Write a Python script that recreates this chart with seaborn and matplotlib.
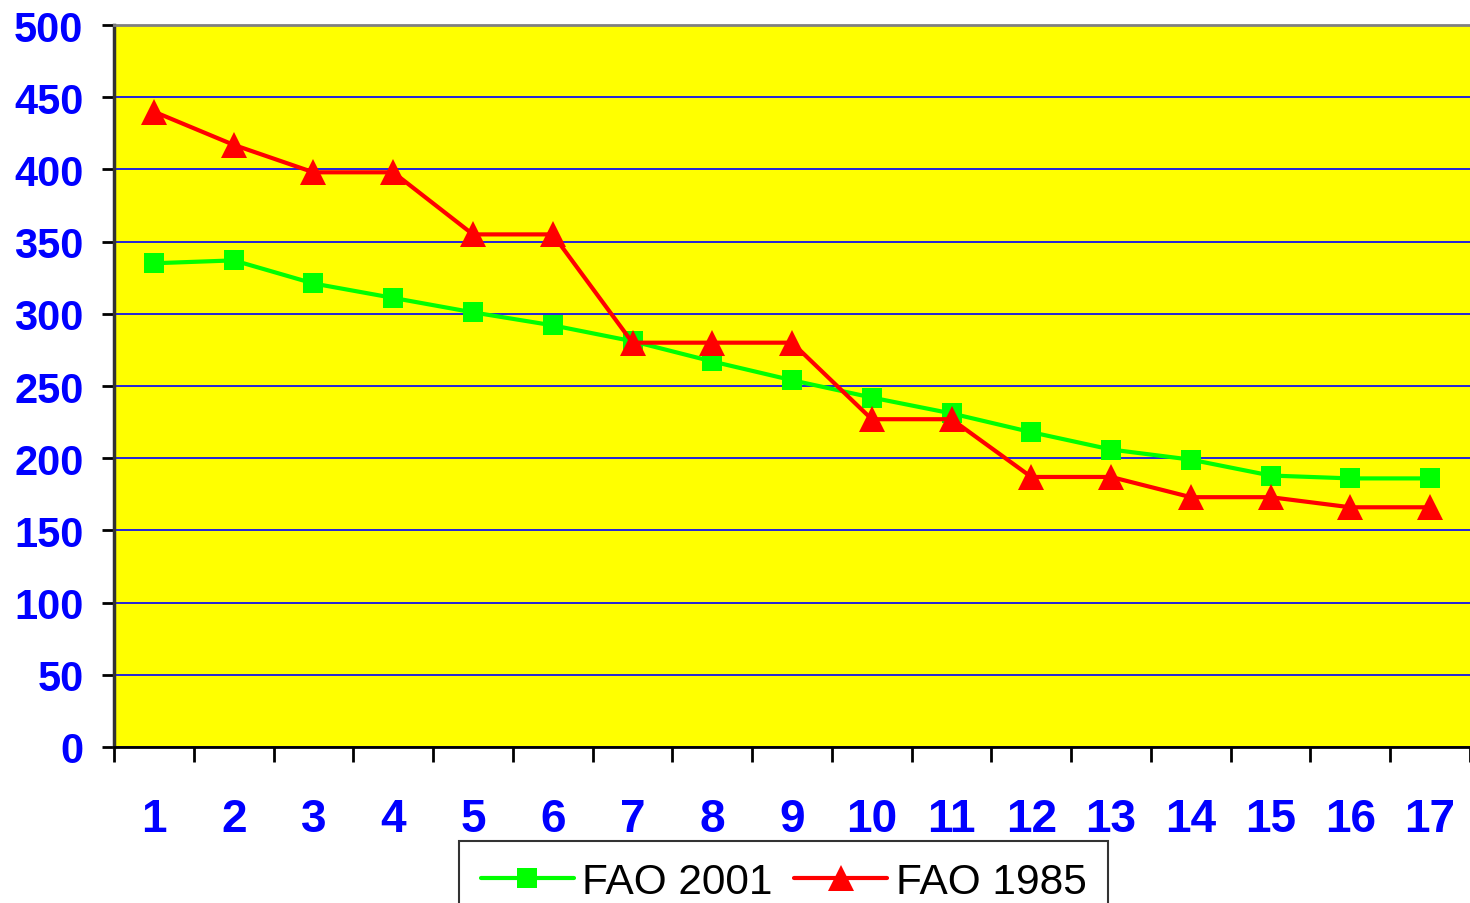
import matplotlib
matplotlib.use("Agg")
import matplotlib.pyplot as plt
import seaborn as sns
import pandas as pd
from matplotlib.ticker import FixedLocator

categories = [str(i) for i in range(1, 18)]
fao_2001 = [335, 337, 321, 311, 301, 292, 281, 267, 254, 242, 231, 218, 206, 199, 188, 186, 186]
fao_1985 = [440, 417, 398, 398, 355, 355, 280, 280, 280, 227, 227, 187, 187, 173, 173, 166, 166]
y_ticks = list(range(0, 501, 50))

df = pd.DataFrame({"pos": range(len(categories)), "cat": categories,
                   "FAO 2001": fao_2001, "FAO 1985": fao_1985})

sns.set_style("white")
plt.rcParams['font.family'] = ['Liberation Sans', 'DejaVu Sans']

fig = plt.figure(figsize=(14.7, 9.04), dpi=100)
ax = fig.add_axes([0.0776, 0.1726, 0.9224, 0.7986])
ax.set_facecolor("#FFFF00")

sns.lineplot(data=df, x="pos", y="FAO 2001", ax=ax, color="#00FF00", linewidth=3,
             marker="s", markersize=14.5, markeredgewidth=0, label="FAO 2001", zorder=3)
sns.lineplot(data=df, x="pos", y="FAO 1985", ax=ax, color="#FF0000", linewidth=3,
             marker="^", markersize=19, markeredgewidth=0, label="FAO 1985", zorder=4)

ax.set_xlim(-0.5, len(categories) - 0.5)
ax.set_ylim(0, 500)
ax.set_xlabel("")
ax.set_ylabel("")

# y axis
ax.set_yticks(y_ticks)
ax.yaxis.grid(True, color="#0000FF", linewidth=1.2)
ax.set_axisbelow(True)
ax.tick_params(axis="y", which="major", direction="out", length=9, width=2, color="black",
               pad=13, labelsize=30, labelcolor="#0000FF")

# x axis: labels at category centres, ticks between categories
ax.set_xticks(df["pos"])
ax.set_xticklabels(categories)
ax.xaxis.set_minor_locator(FixedLocator([i - 0.5 for i in range(len(categories) + 1)]))
ax.tick_params(axis="x", which="major", length=0, pad=36, labelsize=33, labelcolor="#0000FF")
ax.tick_params(axis="x", which="minor", direction="out", length=11, width=2, color="black")
ax.tick_params(axis="both", bottom=True, left=True)
ax.xaxis.set_tick_params(which="minor", bottom=True)

for lab in ax.get_xticklabels() + ax.get_yticklabels():
    lab.set_fontweight("bold")

ax.spines["right"].set_visible(False)
ax.spines["top"].set_color("#808080")
ax.spines["top"].set_linewidth(2)
ax.spines["left"].set_color("#333333")
ax.spines["left"].set_linewidth(2.5)
ax.spines["bottom"].set_color("black")
ax.spines["bottom"].set_linewidth(2)

ax.get_legend().remove()
handles, labels = ax.get_legend_handles_labels()
leg = fig.legend(handles, labels, loc="upper center", bbox_to_anchor=(0.533, 0.069),
                 ncol=2, fontsize=30.5, frameon=True, fancybox=False, handlelength=2.2,
                 handletextpad=0.2, columnspacing=0.5, borderpad=0.5, borderaxespad=0,
                 labelcolor="black")
leg.get_frame().set_edgecolor("black")
leg.get_frame().set_linewidth(1.5)

fig.savefig("out.png", dpi=100)
